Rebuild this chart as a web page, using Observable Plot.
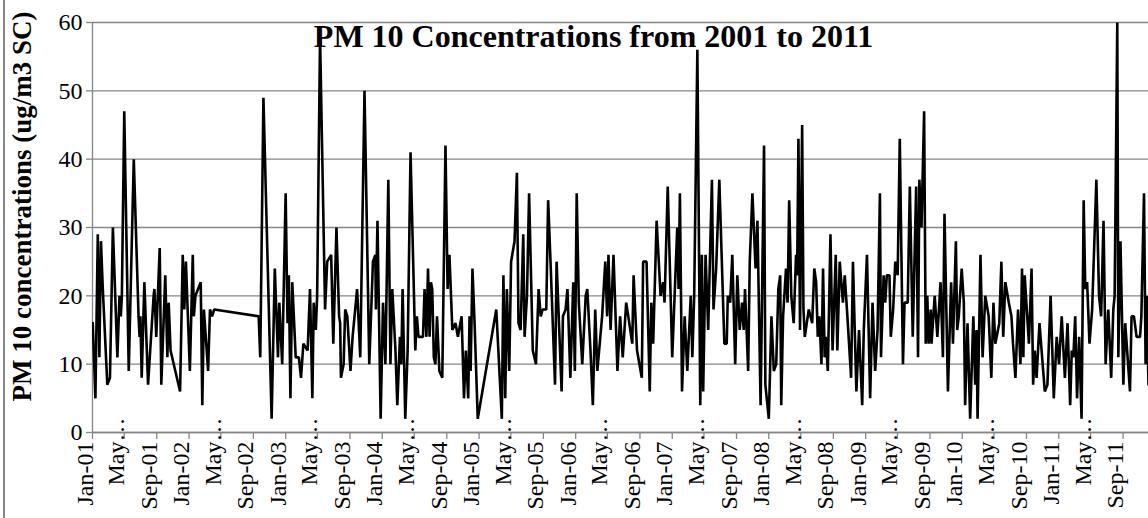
<!DOCTYPE html>
<html><head><meta charset="utf-8">
<script src="https://cdn.jsdelivr.net/npm/d3@7"></script>
<script src="https://cdn.jsdelivr.net/npm/@observablehq/plot@0.6"></script>
<style>
html,body{margin:0;padding:0;background:#fff;}
#chart{position:relative;width:1148px;height:518px;overflow:hidden;background:#fff;}
#border{position:absolute;left:3px;top:0;width:1.5px;height:518px;background:#868686;}
</style></head><body><div id="chart"><div id="border"></div></div>
<script>
const title = "PM 10 Concentrations from 2001 to 2011";
const yLabel = "PM 10 concentrations (ug/m3 SC)";
const yTicks = [0, 10, 20, 30, 40, 50, 60];
const xTickDates = ["2001-01-01","2001-05-01","2001-09-01","2002-01-01","2002-05-01","2002-09-01","2003-01-01","2003-05-01","2003-09-01","2004-01-01","2004-05-01","2004-09-01","2005-01-01","2005-05-01","2005-09-01","2006-01-01","2006-05-01","2006-09-01","2007-01-01","2007-05-01","2007-09-01","2008-01-01","2008-05-01","2008-09-01","2009-01-01","2009-05-01","2009-09-01","2010-01-01","2010-05-01","2010-09-01","2011-01-01","2011-05-01","2011-09-01"];
const xTickLabels = ["Jan-01","May…","Sep-01","Jan-02","May…","Sep-02","Jan-03","May…","Sep-03","Jan-04","May…","Sep-04","Jan-05","May…","Sep-05","Jan-06","May…","Sep-06","Jan-07","May…","Sep-07","Jan-08","May…","Sep-08","Jan-09","May…","Sep-09","Jan-10","May…","Sep-10","Jan-11","May…","Sep-11"];

const dates = [
"2001-01-02","2001-01-12","2001-01-21","2001-01-27","2001-02-02","2001-02-09","2001-02-26","2001-03-08","2001-03-19","2001-04-05","2001-04-13","2001-04-18","2001-04-22","2001-05-01","2001-05-18","2001-06-06","2001-06-24","2001-06-28","2001-07-01","2001-07-06","2001-07-16","2001-07-30","2001-08-20","2001-08-23","2001-08-30","2001-09-12","2001-09-18","2001-10-03","2001-10-11","2001-10-16","2001-10-23","2001-11-28","2001-12-08","2001-12-14","2001-12-20",
"2002-01-04","2002-01-15","2002-01-19","2002-01-25","2002-02-14","2002-02-20","2002-02-26","2002-03-14","2002-03-21","2002-03-29","2002-04-06","2002-09-21","2002-09-27","2002-10-09","2002-11-09","2002-11-21","2002-12-03","2002-12-08","2002-12-19",
"2003-01-01","2003-01-08","2003-01-13","2003-01-19","2003-01-26","2003-02-08","2003-02-20","2003-02-28","2003-03-09","2003-03-25","2003-04-03","2003-04-12","2003-04-17","2003-04-25","2003-04-30","2003-05-11","2003-05-30","2003-06-07","2003-06-22","2003-06-30","2003-07-12","2003-07-22","2003-07-26","2003-07-29","2003-08-08","2003-08-14","2003-08-22","2003-09-03","2003-09-11","2003-09-28","2003-10-10","2003-10-26","2003-11-13","2003-11-27","2003-12-06","2003-12-08","2003-12-14","2003-12-26",
"2004-01-04","2004-01-13","2004-01-24","2004-02-01","2004-02-08","2004-02-20","2004-02-27","2004-03-08","2004-03-13","2004-03-18","2004-03-28","2004-04-06","2004-04-17","2004-05-05","2004-05-11","2004-05-17","2004-06-03","2004-06-09","2004-06-16","2004-06-22","2004-06-28","2004-07-03","2004-07-08","2004-07-14","2004-07-20","2004-07-26","2004-08-04","2004-08-15","2004-08-27","2004-09-04","2004-09-11","2004-09-22","2004-10-04","2004-10-13","2004-10-27","2004-11-05","2004-11-12","2004-11-21","2004-11-26","2004-11-30","2004-12-07","2004-12-15","2004-12-27",
"2005-03-07","2005-03-28","2005-04-03","2005-04-10","2005-04-16","2005-04-25","2005-05-02","2005-05-15","2005-05-24","2005-05-30","2005-06-07","2005-06-17","2005-06-22","2005-07-01","2005-07-09","2005-07-23","2005-08-04","2005-08-14","2005-08-22","2005-08-29","2005-09-12","2005-09-19","2005-09-29","2005-10-15","2005-10-21","2005-11-09","2005-11-14","2005-11-24","2005-12-01","2005-12-12","2005-12-23","2005-12-29",
"2006-01-05","2006-01-13","2006-01-26","2006-02-08","2006-02-14","2006-02-26","2006-03-07","2006-03-16","2006-03-24","2006-04-11","2006-04-23","2006-04-30","2006-05-05","2006-05-13","2006-05-24","2006-06-08","2006-06-18","2006-06-28","2006-07-11","2006-07-19","2006-08-03","2006-08-08","2006-08-21","2006-09-08","2006-09-13","2006-09-26","2006-10-08","2006-10-14","2006-10-21","2006-11-03","2006-11-18","2006-11-28","2006-12-03","2006-12-15",
"2007-01-01","2007-01-20","2007-01-25","2007-01-30","2007-02-07","2007-02-17","2007-02-27","2007-03-12","2007-03-18","2007-03-25","2007-04-06","2007-04-17","2007-04-23","2007-04-28","2007-05-07","2007-05-17","2007-05-22","2007-05-31","2007-06-06","2007-06-16","2007-06-28","2007-07-17","2007-07-26","2007-07-30","2007-08-08","2007-08-16","2007-08-27","2007-09-04","2007-09-13","2007-09-22","2007-09-28","2007-10-03","2007-10-15","2007-10-21","2007-10-31","2007-11-12","2007-11-19","2007-12-01","2007-12-14","2007-12-19",
"2008-01-01","2008-01-11","2008-01-20","2008-01-29","2008-02-06","2008-02-13","2008-02-17","2008-02-24","2008-03-06","2008-03-12","2008-03-18","2008-03-26","2008-04-04","2008-04-13","2008-04-17","2008-04-22","2008-04-28","2008-05-06","2008-05-11","2008-05-16","2008-05-31","2008-06-13","2008-06-21","2008-06-28","2008-07-04","2008-07-10","2008-07-18","2008-07-24","2008-07-30","2008-08-03","2008-08-11","2008-08-21","2008-08-29","2008-09-10","2008-09-16","2008-09-25","2008-10-07","2008-10-14","2008-10-24","2008-11-07","2008-11-14","2008-11-27","2008-12-07","2008-12-19","2008-12-25",
"2009-01-06","2009-01-18","2009-01-27","2009-02-06","2009-02-15","2009-02-24","2009-02-28","2009-03-10","2009-03-16","2009-03-22","2009-04-01","2009-04-06","2009-04-15","2009-04-23","2009-05-02","2009-05-10","2009-05-22","2009-05-28","2009-06-09","2009-06-17","2009-06-28","2009-07-11","2009-07-18","2009-07-23","2009-07-31","2009-08-10","2009-08-16","2009-08-22","2009-08-27","2009-09-04","2009-09-07","2009-09-19","2009-09-29","2009-10-11","2009-10-20","2009-10-26","2009-11-08","2009-11-20","2009-11-27","2009-12-08","2009-12-13","2009-12-19","2009-12-30",
"2010-01-07","2010-01-12","2010-01-21","2010-01-31","2010-02-12","2010-02-19","2010-02-24","2010-02-28","2010-03-11","2010-03-19","2010-03-29","2010-04-11","2010-04-21","2010-04-29","2010-05-06","2010-05-21","2010-05-29","2010-06-05","2010-06-13","2010-06-26","2010-07-06","2010-07-12","2010-07-21","2010-07-31","2010-08-09","2010-08-15","2010-08-20","2010-08-25","2010-09-10","2010-09-20","2010-09-26","2010-10-02","2010-10-09","2010-10-20","2010-10-28","2010-11-09","2010-11-19","2010-12-01","2010-12-13","2010-12-24",
"2011-01-02","2011-01-12","2011-01-24","2011-02-03","2011-02-13","2011-02-19","2011-02-25","2011-03-04","2011-03-11","2011-03-19","2011-03-28","2011-04-05","2011-04-11","2011-04-18","2011-04-27","2011-05-07","2011-05-23","2011-06-02","2011-06-10","2011-06-19","2011-06-27","2011-07-07","2011-07-18","2011-07-26","2011-07-31","2011-08-10","2011-08-14","2011-08-22","2011-09-02","2011-09-09","2011-09-27","2011-10-03","2011-10-12","2011-10-22","2011-11-04","2011-11-09","2011-11-19","2011-11-25","2011-11-29","2011-12-06"
];
const pm10 = [
16,5,29,11,28,21,7,8,30,11,20,17,20,47,9,40,17,14,17,8,22,7,20,21,14,27,7,23,11,19,12,6,26,18,25,
9,26,17,20,22,4,18,9,18,17,18,17,11,49,2,24,11,19,10,
35,16,23,5,22,11,11,8,13,12,21,5,19,15,20,58,18,25,26,13,30,17,16,8,10,18,17,9,14,21,11,50,10,25,26,18,31,2,
19,10,37,10,21,12,4,14,10,21,2,12,41,12,17,14,14,21,14,24,14,22,21,11,10,17,9,8,42,21,26,15,16,14,17,5,12,5,17,9,24,16,2,
18,2,23,5,21,9,25,28,38,16,15,29,14,20,35,12,10,21,17,18,18,34,24,7,25,6,17,18,21,8,22,9,
35,19,10,20,21,12,4,18,9,17,25,17,26,15,26,9,17,11,19,17,13,23,12,8,25,25,6,19,13,31,20,22,19,36,
11,30,21,35,6,17,9,20,11,20,56,4,26,6,26,15,23,37,18,24,37,13,13,20,19,26,10,23,15,19,15,21,9,25,35,24,31,4,42,7,
2,17,9,10,21,23,4,17,24,19,34,20,16,26,23,43,15,45,18,14,18,16,24,22,14,17,10,24,11,14,9,29,12,26,12,25,19,23,17,8,25,6,15,4,15,
26,5,19,9,15,35,11,23,19,23,23,14,18,25,23,43,10,19,19,36,14,36,11,37,30,47,13,20,13,18,13,20,14,22,11,32,6,22,13,28,15,17,24,
19,4,16,2,17,7,15,2,26,11,20,17,8,19,13,16,25,14,22,19,17,13,8,18,10,24,11,23,13,24,7,12,8,16,12,6,7,20,5,14,
10,17,8,16,4,12,11,17,5,14,2,34,21,22,13,18,37,20,17,31,10,18,8,18,20,60,11,28,7,16,6,17,17,14,14,17,35,10,20,7
];

const data = dates.map((d, i) => ({date: new Date(d), value: pm10[i]}));
const ticks = xTickDates.map((d, i) => ({date: new Date(d), label: xTickLabels[i].replace("…", ""), more: xTickLabels[i].endsWith("…")}));
const grey = "#868686";
const serif = "'Liberation Serif','Times New Roman',serif";

const plot = Plot.plot({
  width: 1148,
  height: 518,
  marginLeft: 92,
  marginRight: 0,
  marginTop: 22,
  marginBottom: 86,
  style: {fontFamily: serif, background: "transparent", color: "#000", overflow: "visible"},
  x: {type: "utc", domain: [new Date("2001-01-01"), new Date("2011-12-06")]},
  y: {domain: [0, 60]},
  marks: [
    Plot.gridY(yTicks, {stroke: grey, strokeOpacity: 1, strokeWidth: 1.3}),
    Plot.axisY(yTicks, {tickSize: 6, stroke: grey, strokeWidth: 1.3, label: null, tickFormat: () => ""}),
    Plot.axisX(ticks.map(t => t.date), {tickSize: 7, stroke: grey, strokeWidth: 1.3, label: null, tickFormat: () => ""}),
    Plot.ruleY([0], {stroke: grey, strokeWidth: 1.3}),
    Plot.ruleX([new Date("2001-01-01")], {stroke: grey, strokeWidth: 1.3}),
    Plot.line(data, {x: "date", y: "value", stroke: "#000", strokeWidth: 2.6, strokeLinejoin: "miter", clip: true}),
    Plot.text(yTicks, {y: d => d, frameAnchor: "left", text: d => String(d), textAnchor: "end", dx: -10, fontSize: 24, fontFamily: serif, fill: "#000"}),
    Plot.text(ticks, {x: "date", frameAnchor: "bottom", text: "label", rotate: -90, textAnchor: "end", dy: 9, fontSize: 24, fontFamily: serif, fill: "#000"}),
    Plot.text(ticks.filter(t => t.more), {x: "date", frameAnchor: "bottom", text: () => "…", rotate: -90, textAnchor: "start", dy: 9, fontSize: 24, fontFamily: serif, fill: "#000"}),
    Plot.text([title], {frameAnchor: "top", lineAnchor: "top", dx: -27, dy: 2, fontSize: 32, fontWeight: "bold", fontFamily: serif}),
    Plot.text([yLabel], {frameAnchor: "left", textAnchor: "middle", rotate: -90, dx: -70, dy: -21, fontSize: 27, fontWeight: "bold", fontFamily: serif})
  ]
});
document.getElementById("chart").appendChild(plot);
plot.style.position = "absolute";
plot.style.left = "0px";
plot.style.top = "0px";
</script>
</body></html>
